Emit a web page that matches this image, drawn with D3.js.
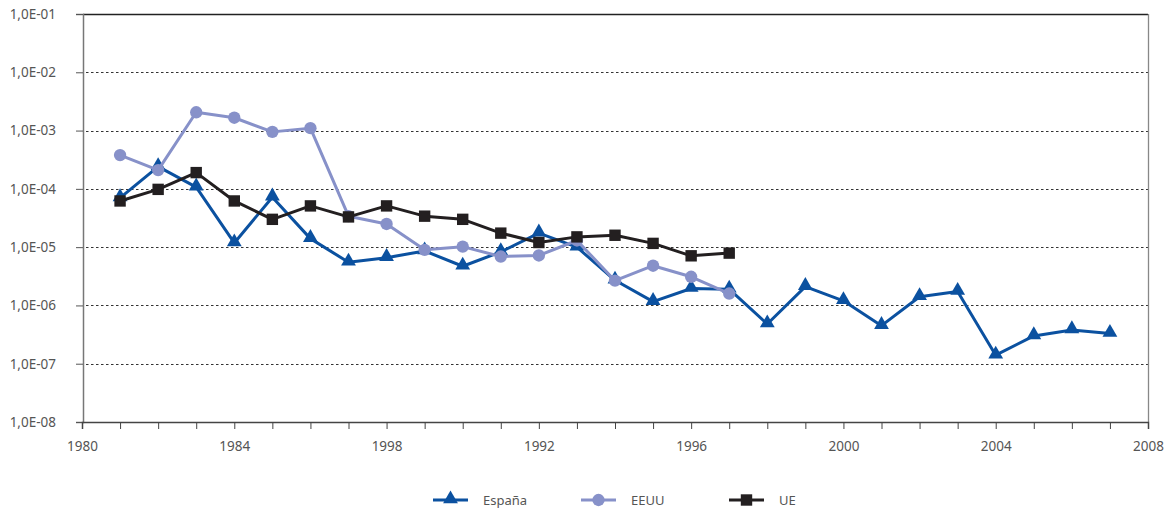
<!DOCTYPE html>
<html><head><meta charset="utf-8">
<script src="https://cdn.jsdelivr.net/npm/d3@7"></script>
<style>body{margin:0;background:#fff}svg{display:block}text{font-family:"Noto Sans",sans-serif}</style>
</head><body><svg id="c" width="1173" height="513"></svg>
<script>
const years = d3.range(1981, 2008);
const espana = [7.0e-5,2.4e-4,1.07e-4,1.18e-5,7.2e-5,1.4e-5,5.5e-6,6.6e-6,8.6e-6,4.7e-6,8.3e-6,1.74e-5,1.0e-5,2.7e-6,1.16e-6,1.95e-6,1.9e-6,4.8e-7,2.1e-6,1.2e-6,4.5e-7,1.41e-6,1.73e-6,1.4e-7,3.0e-7,3.8e-7,3.3e-7];
const eeuu = [3.8e-4,2.1e-4,2.06e-3,1.66e-3,9.5e-4,1.1e-3,3.4e-5,2.5e-5,9.0e-6,1.02e-5,6.9e-6,7.2e-6,1.3e-5,2.66e-6,4.8e-6,3.1e-6,1.6e-6];
const ue = [6.2e-5,9.8e-5,1.9e-4,6.2e-5,3.0e-5,5.1e-5,3.3e-5,5.1e-5,3.4e-5,3.0e-5,1.74e-5,1.2e-5,1.5e-5,1.6e-5,1.16e-5,7.1e-6,7.9e-6];
const xTickLabels = ["1980","1984","1998","1992","1996","2000","2004","2008"];
const yTickValues = [1e-8,1e-7,1e-6,1e-5,1e-4,1e-3,1e-2,1e-1];
const yTickLabels = ["1,0E-08","1,0E-07","1,0E-06","1,0E-05","1,0E-04","1,0E-03","1,0E-02","1,0E-01"];
const seriesNames = ["España","EEUU","UE"];
const colors = ["#0b51a0","#8791c9","#231f20"];

const svg = d3.select("#c");
const L=83, R=1148, T=14, B=422;
const x = d3.scaleLinear().domain([1980,2008]).range([L-1,R]);
const y = d3.scaleLog().domain([1e-8,1e-1]).range([B,T]);

// gridlines
svg.append("g").selectAll("line").data(yTickValues.slice(1,7)).join("line")
  .attr("x1",L+3).attr("x2",R).attr("y1",d=>Math.round(y(d))+0.5).attr("y2",d=>Math.round(y(d))+0.5)
  .attr("stroke","#333").attr("stroke-width",1).attr("stroke-dasharray","2.5,2.5");

// frame
svg.append("line").attr("x1",L).attr("x2",R).attr("y1",T+0.5).attr("y2",T+0.5).attr("stroke","#222").attr("stroke-width",1.3);
svg.append("line").attr("x1",R+0.5).attr("x2",R+0.5).attr("y1",T).attr("y2",B).attr("stroke","#888").attr("stroke-width",1.3);

// y axis
const yAxis = d3.axisLeft(y).tickValues(yTickValues).tickSize(7).tickPadding(20)
  .tickFormat((d,i)=>yTickLabels[i]);
const gy = svg.append("g").attr("transform",`translate(${L},0)`).call(yAxis);
gy.select(".domain").attr("stroke","#777").attr("stroke-width",1.5);
gy.selectAll(".tick line").attr("stroke","#555");
gy.selectAll(".tick text").attr("fill","#555").style("font-size","13.5px").attr("dy","0.32em");

// x axis
const xAxis = d3.axisBottom(x).tickValues(d3.range(1980,2009)).tickSize(7).tickPadding(12)
  .tickFormat(d=> (d-1980)%4===0 ? xTickLabels[(d-1980)/4] : "");
const gx = svg.append("g").attr("transform",`translate(0,${B})`).call(xAxis);
gx.select(".domain").attr("stroke","#444").attr("stroke-width",1.5);
gx.selectAll(".tick line").attr("stroke","#444");
gx.selectAll(".tick text").attr("fill","#555").style("font-size","13.5px");

const line = d3.line().x(d=>x(d[0])).y(d=>y(d[1]));
const data = [espana, eeuu, ue].map(arr=>arr.map((v,i)=>[years[i],v]));
const symbols = [d3.symbolTriangle, d3.symbolCircle, d3.symbolSquare];
const sizes = [95, 120, 130];

function marker(g, k, px, py){
  g.append("path").attr("d", d3.symbol(symbols[k], sizes[k])())
    .attr("transform",`translate(${px},${k===0?py-1:py})`).attr("fill",colors[k]);
}

[0,1,2].forEach(k=>{
  const g = svg.append("g");
  g.append("path").datum(data[k]).attr("d",line).attr("fill","none").attr("stroke",colors[k]).attr("stroke-width",3).attr("stroke-linejoin","round");
  data[k].forEach(d=>marker(g,k,x(d[0]),y(d[1])));
});

// legend
const legX = [433, 581, 729];
const lg = svg.append("g");
seriesNames.forEach((n,k)=>{
  const lx = legX[k], ly = 500;
  lg.append("line").attr("x1",lx).attr("x2",lx+35).attr("y1",ly).attr("y2",ly).attr("stroke",colors[k]).attr("stroke-width",3);
  marker(lg,k,lx+17.5,ly);
  lg.append("text").attr("x",lx+50).attr("y",ly).attr("dy","0.35em").attr("fill","#555").style("font-size","13px").text(n);
});
</script></body></html>
